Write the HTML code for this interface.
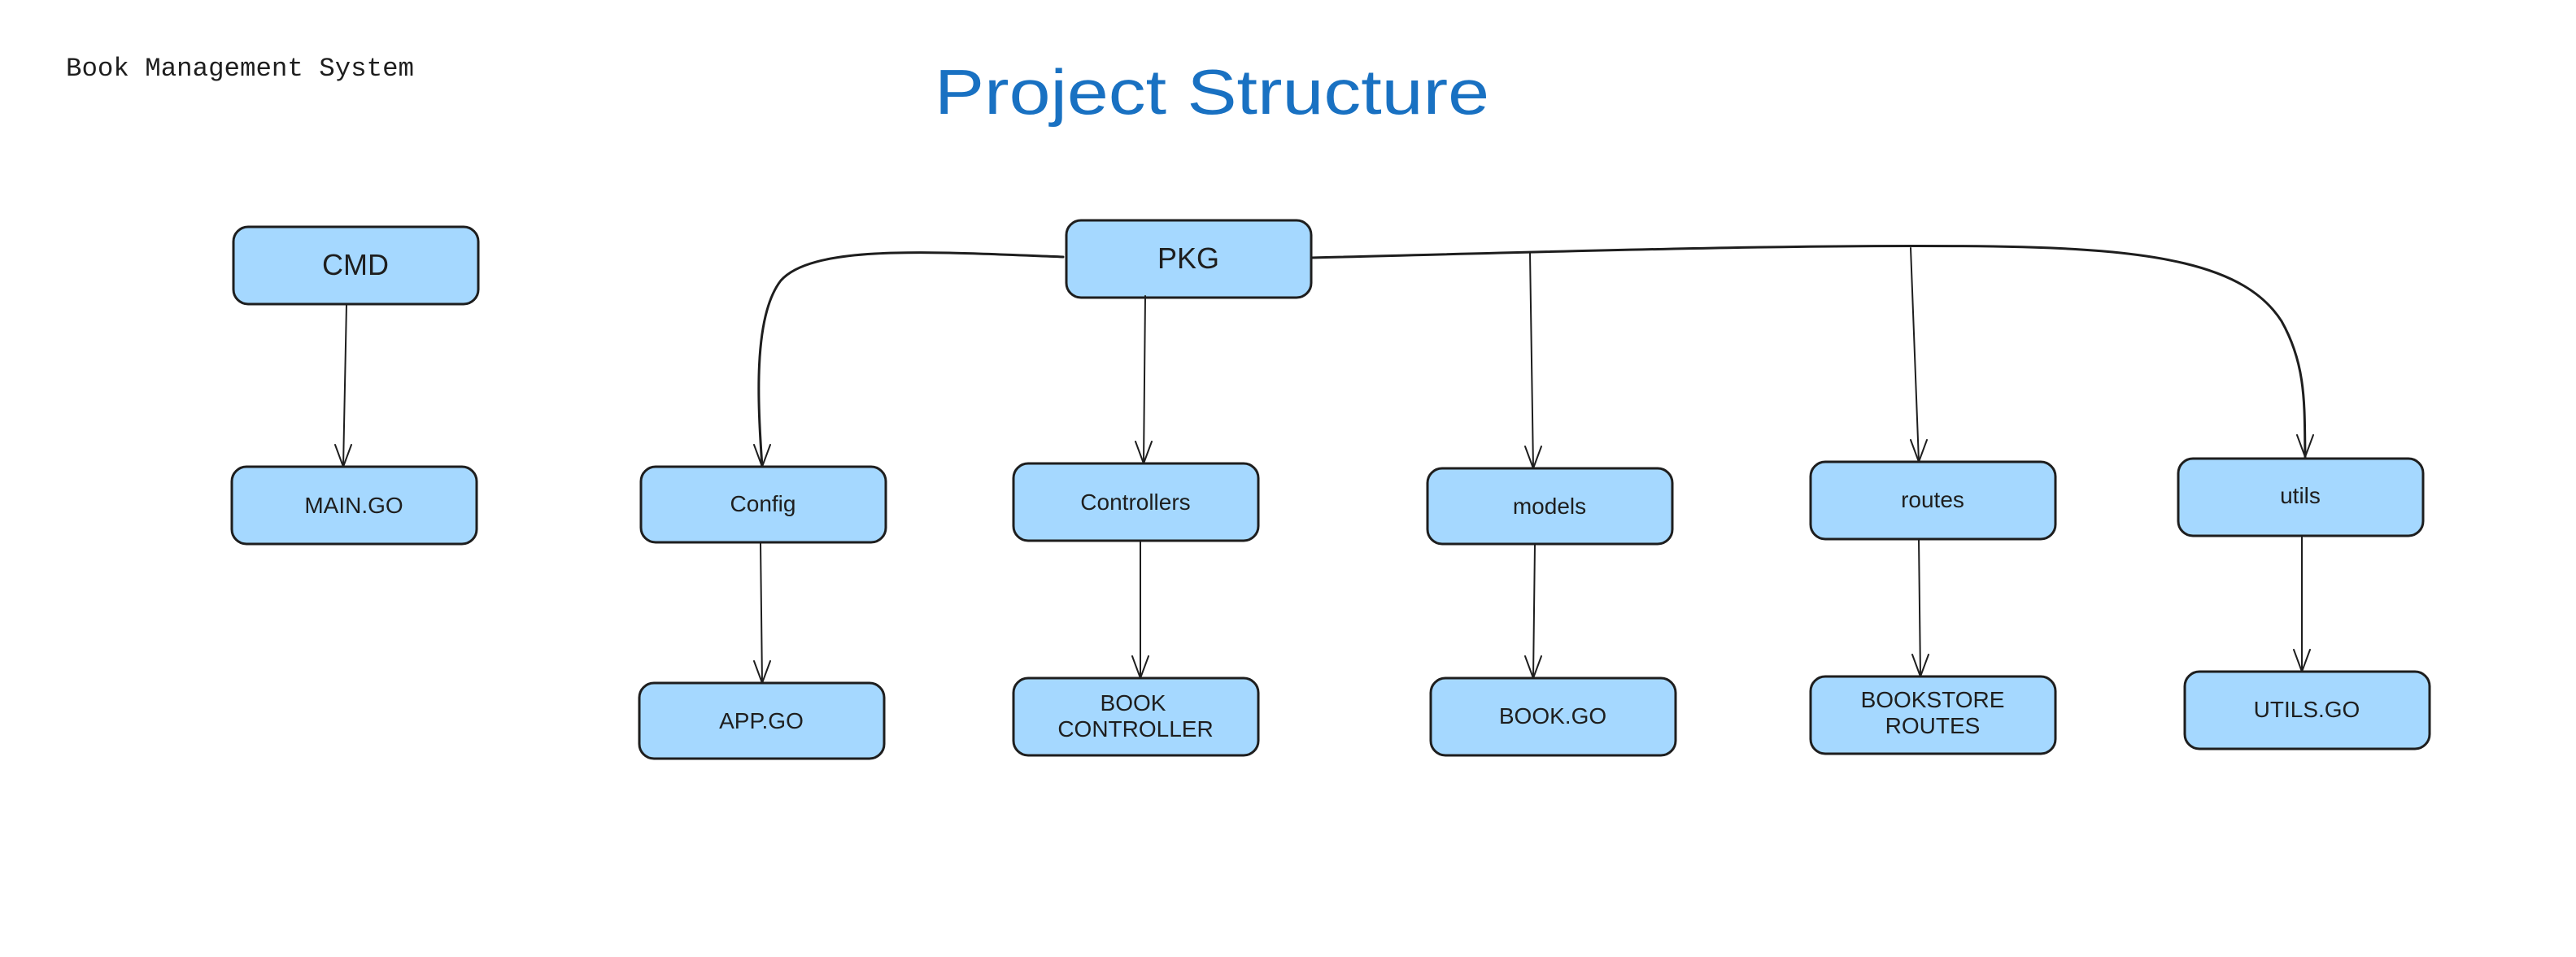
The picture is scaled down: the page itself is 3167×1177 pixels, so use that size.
<!DOCTYPE html>
<html><head><meta charset="utf-8"><style>
html,body{margin:0;padding:0;background:#fff;}
svg{display:block;}
</style></head><body>
<svg width="3167" height="1177" viewBox="0 0 3167 1177" xmlns="http://www.w3.org/2000/svg">
<rect width="3167" height="1177" fill="#fff"/>
<text x="81" y="93" font-family="Liberation Mono, monospace" font-size="32" fill="#1e1e1e" textLength="428" lengthAdjust="spacingAndGlyphs">Book Management System</text>
<text x="1149" y="140" font-family="Liberation Sans, sans-serif" font-size="78" fill="#1971c2" textLength="682" lengthAdjust="spacingAndGlyphs">Project Structure</text>

<g fill="#a5d8ff" stroke="#1e1e1e" stroke-width="3">
<rect x="287" y="279" width="301" height="95" rx="18"/>
<rect x="285" y="574" width="301" height="95" rx="18"/>
<rect x="1311" y="271" width="301" height="95" rx="18"/>
<rect x="788" y="574" width="301" height="93" rx="18"/>
<rect x="1246" y="570" width="301" height="95" rx="18"/>
<rect x="1755" y="576" width="301" height="93" rx="18"/>
<rect x="2226" y="568" width="301" height="95" rx="18"/>
<rect x="2678" y="564" width="301" height="95" rx="18"/>
<rect x="786" y="840" width="301" height="93" rx="18"/>
<rect x="1246" y="834" width="301" height="95" rx="18"/>
<rect x="1759" y="834" width="301" height="95" rx="18"/>
<rect x="2226" y="832" width="301" height="95" rx="18"/>
<rect x="2686" y="826" width="301" height="95" rx="18"/>
</g>

<g font-family="Liberation Sans, sans-serif" fill="#1e1e1e" text-anchor="middle">
<text x="437" y="338" font-size="36">CMD</text>
<text x="1461" y="330" font-size="36">PKG</text>
<text x="435" y="631" font-size="28">MAIN.GO</text>
<text x="938" y="629" font-size="28">Config</text>
<text x="1396" y="627" font-size="28">Controllers</text>
<text x="1905" y="632" font-size="28">models</text>
<text x="2376" y="624" font-size="28">routes</text>
<text x="2828" y="619" font-size="28">utils</text>
<text x="936" y="896" font-size="28">APP.GO</text>
<text x="1393" y="874" font-size="28">BOOK</text>
<text x="1396" y="906" font-size="28">CONTROLLER</text>
<text x="1909" y="890" font-size="28">BOOK.GO</text>
<text x="2376" y="870" font-size="28">BOOKSTORE</text>
<text x="2376" y="902" font-size="28">ROUTES</text>
<text x="2836" y="882" font-size="28">UTILS.GO</text>
</g>

<g fill="none" stroke="#1e1e1e" stroke-width="2" stroke-linecap="round">
<path d="M426 374 L422 574"/>
<path d="M1307 316 C1150 310 1000 300 960 345 C925 390 932 500 937 574" stroke-width="3"/>
<path d="M1408 364 L1406 570"/>
<path d="M1612 317 C1900 310 2200 300 2450 303 C2650 306 2760 325 2805 395 C2836 450 2833 500 2834 562" stroke-width="3"/>
<path d="M1881 311 L1885 576"/>
<path d="M2349 305 L2359 568"/>
<path d="M935 667 L937 840"/>
<path d="M1402 665 L1402 834"/>
<path d="M1887 669 L1885 834"/>
<path d="M2359 663 L2361 832"/>
<path d="M2830 659 L2830 826"/>
</g>
<g fill="none" stroke="#1e1e1e" stroke-width="2" stroke-linecap="round" stroke-linejoin="round">
<path d="M412 547 L422 574 L432 547"/>
<path d="M927 547 L937 574 L947 547"/>
<path d="M1396 543 L1406 570 L1416 543"/>
<path d="M1875 549 L1885 576 L1895 549"/>
<path d="M2349 541 L2359 568 L2369 541"/>
<path d="M2824 535 L2834 562 L2844 535"/>
<path d="M927 813 L937 840 L947 813"/>
<path d="M1392 807 L1402 834 L1412 807"/>
<path d="M1875 807 L1885 834 L1895 807"/>
<path d="M2351 805 L2361 832 L2371 805"/>
<path d="M2820 799 L2830 826 L2840 799"/>
</g>
</svg>
</body></html>
